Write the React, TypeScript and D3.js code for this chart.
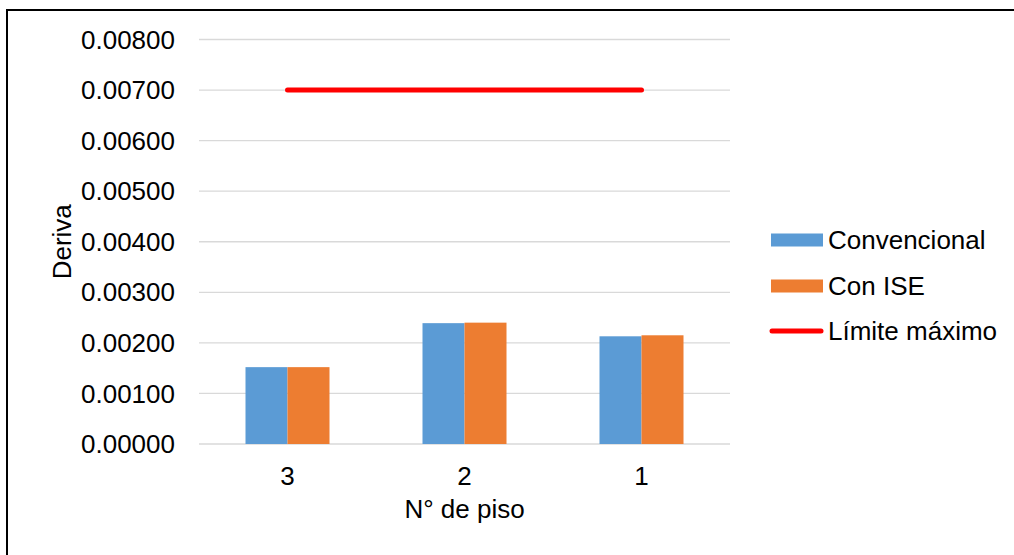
import React from "react";
import * as d3 from "d3";

const categories = ["3", "2", "1"];
const convencional = [0.00152, 0.00239, 0.00213];
const conISE = [0.00152, 0.0024, 0.00215];
const limiteMaximo = 0.007;
const yTicks = [0, 0.001, 0.002, 0.003, 0.004, 0.005, 0.006, 0.007, 0.008];
const seriesNames = ["Convencional", "Con ISE", "Límite máximo"];
const colors = ["#5B9BD5", "#ED7D31", "#FF0000"];

const W = 1014;
const H = 555;
const plot = { left: 199, right: 730, top: 39.5, bottom: 444 };
const font = "'Liberation Sans', Arial, sans-serif";
const fs = 26;

export default function App() {
  const x = d3
    .scaleBand<string>()
    .domain(categories)
    .range([plot.left, plot.right])
    .paddingInner(93 / 177)
    .paddingOuter(93 / 177 / 2);
  const y = d3.scaleLinear().domain([0, 0.008]).range([plot.bottom, plot.top]);
  const half = x.bandwidth() / 2;
  const center = (c: string) => (x(c) as number) + half;

  const line = d3
    .line<string>()
    .x((c) => center(c))
    .y(() => y(limiteMaximo));

  const legendY = [240, 286, 331];

  return (
    <svg
      width={W}
      height={H}
      style={{ position: "absolute", left: 0, top: 0, background: "#fff" }}
      fontFamily={font}
    >
      <rect x={7} y={10} width={W + 20} height={H + 20} fill="#fff" stroke="#000" strokeWidth={2} />
      {yTicks.map((t) => (
        <g key={t}>
          <line x1={plot.left} x2={plot.right} y1={y(t)} y2={y(t)} stroke="#D9D9D9" strokeWidth={1.3} />
          <text x={175} y={y(t)} dy="0.35em" textAnchor="end" fontSize={fs} fill="#000">
            {t.toFixed(5)}
          </text>
        </g>
      ))}
      {categories.map((c, i) => (
        <g key={c}>
          <rect
            x={x(c)}
            y={y(convencional[i])}
            width={half}
            height={y(0) - y(convencional[i])}
            fill={colors[0]}
          />
          <rect
            x={center(c)}
            y={y(conISE[i])}
            width={half}
            height={y(0) - y(conISE[i])}
            fill={colors[1]}
          />
          <text x={center(c)} y={485} textAnchor="middle" fontSize={fs} fill="#000">
            {c}
          </text>
        </g>
      ))}
      <path d={line(categories) as string} stroke={colors[2]} strokeWidth={5} strokeLinecap="round" fill="none" />
      <text
        transform={`translate(71, ${(plot.top + plot.bottom) / 2}) rotate(-90)`}
        textAnchor="middle"
        fontSize={fs}
        fill="#000"
      >
        Deriva
      </text>
      <text x={464.5} y={518} textAnchor="middle" fontSize={fs} fill="#000">
        N° de piso
      </text>
      {seriesNames.map((name, i) => (
        <g key={name}>
          {i < 2 ? (
            <rect x={771} y={legendY[i] - 6.5} width={52} height={13} fill={colors[i]} />
          ) : (
            <line
              x1={772}
              x2={821}
              y1={legendY[i]}
              y2={legendY[i]}
              stroke={colors[i]}
              strokeWidth={5}
              strokeLinecap="round"
            />
          )}
          <text x={828} y={legendY[i]} dy="0.35em" fontSize={fs} fill="#000">
            {name}
          </text>
        </g>
      ))}
    </svg>
  );
}
